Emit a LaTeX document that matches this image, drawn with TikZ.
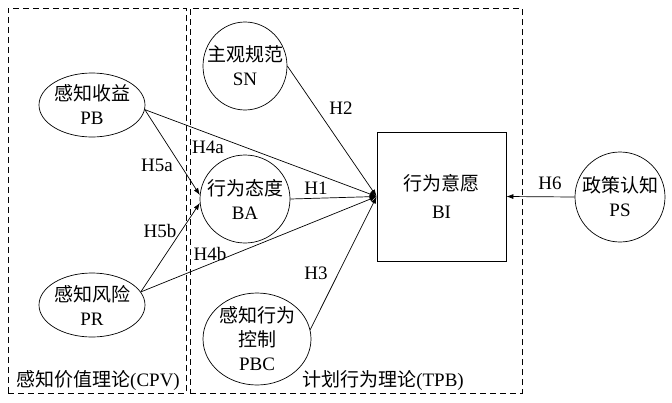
\documentclass[tikz,border=0pt]{standalone}
\usepackage{fontspec}
\setmainfont{Liberation Serif}
\newfontfamily\cjk{Noto Sans CJK SC}
\usetikzlibrary{shapes.geometric,arrows.meta}

\begin{document}
\begin{tikzpicture}[x=1pt,y=-1pt,
        frame/.style={draw,dash pattern=on 6pt off 4pt,line width=0.6pt,minimum height=385pt,inner sep=0pt},
        latent/.style={ellipse,draw,line width=0.7pt,inner sep=0pt},
        caption/.style={align=center,inner sep=0pt,font=\fontsize{19}{24}\selectfont},
        construct/.style={rectangle,draw,line width=0.7pt,inner sep=0pt,align=center,minimum size=129pt,font=\fontsize{19}{28}\selectfont},
        title/.style={font=\fontsize{19}{22}\selectfont},
        hypo/.style={font=\fontsize{19}{21}\selectfont},
        link/.style={line width=0.7pt,-{Latex[length=7pt,width=5pt]}}]
    \useasboundingbox (0,0) rectangle (672,402);

    % Theory frames
    \node[frame,minimum width=178pt] (cpv) at (97,200.5) {};
    \node[frame,minimum width=332pt] (tpb) at (356,200.5) {};
    \node[title] (cpvname) at (98,381) {{\cjk 感知价值理论}(CPV)};
    \node[title] (tpbname) at (383,381) {{\cjk 计划行为理论}(TPB)};

    % Perceived value
    \node[latent,minimum width=106pt,minimum height=64pt] (PB) at (92,105) {};
    \node[caption] (PBtxt) at (PB) {{\cjk 感知收益}\\PB};
    \node[latent,minimum width=106pt,minimum height=64pt] (PR) at (92,305) {};
    \node[caption] (PRtxt) at (PR) {{\cjk 感知风险}\\PR};

    % Planned behaviour
    \node[latent,minimum width=84pt,minimum height=88pt] (SN) at (245,66) {};
    \node[caption] (SNtxt) at (SN) {{\cjk 主观规范}\\SN};
    \node[latent,minimum width=90pt,minimum height=88pt] (BA) at (245,199) {};
    \node[caption] (BAtxt) at (BA) {{\cjk 行为态度}\\BA};
    \node[latent,minimum width=108pt,minimum height=92pt] (PBC) at (257,339) {};
    \node[caption] (PBCtxt) at (PBC) {{\cjk 感知行为}\\{\cjk 控制}\\PBC};
    \node[construct] (BI) at (441.5,196.5) {{\cjk 行为意愿}\\BI};

    % Policy
    \node[latent,minimum width=90pt,minimum height=90pt] (PS) at (620,197) {};
    \node[caption] (PStxt) at (PS) {{\cjk 政策认知}\\PS};

    % Hypotheses
    \node[hypo] (h1) at (316,188) {H1};
    \node[hypo] (h2) at (341,108) {H2};
    \node[hypo] (h3) at (316,273) {H3};
    \node[hypo] (h4a) at (208,147) {H4a};
    \node[hypo] (h4b) at (210,254) {H4b};
    \node[hypo] (h5a) at (157,165) {H5a};
    \node[hypo] (h5b) at (160,231) {H5b};
    \node[hypo] (h6) at (550,183) {H6};

    % Edges
    \draw[link] (PB.-5) -- (BI.west);
    \draw[link] (PB.-5) -- (BA.175);
    \draw[link] (PR.15) -- (BA.185);
    \draw[link] (PR.15) -- (BI.west);
    \draw[link] (SN.east) -- (BI.west);
    \draw[link] (BA.east) -- (BI.west);
    \draw[link] (PBC.10) -- (BI.west);
    \draw[link] (PS.west) -- (BI.east);
\end{tikzpicture}
\end{document}
